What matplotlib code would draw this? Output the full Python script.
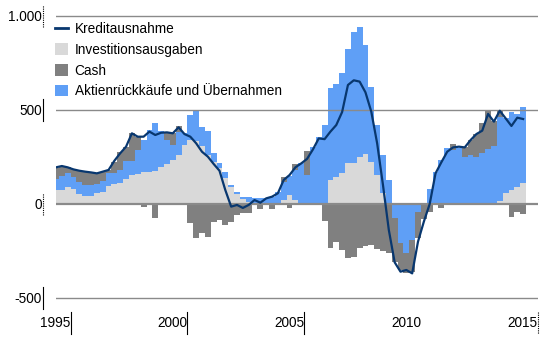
import numpy as np
import pandas as pd
import matplotlib
matplotlib.use("Agg")
import matplotlib.pyplot as plt
from matplotlib.patches import Patch
from matplotlib.lines import Line2D
from matplotlib.transforms import blended_transform_factory

plt.rcParams["font.family"] = ["Liberation Sans", "DejaVu Sans"]
plt.rcParams["font.size"] = 9.8

# quarterly figures, 1994Q2 - 2014Q2
quarters = pd.period_range("1994Q2", periods=81, freq="Q")

invest = [74, 74, 90, 78, 53, 43, 43, 60, 66, 96, 106, 110, 133, 156, 161, 172,
          172, 175, 195, 213, 234, 261, 314, 340, 337, 308, 261, 225, 190, 140, 90, 55,
          25, 10, 0, 0, 0, 0, 0, 20, 50, 20, 0, 0, 0, 0, 0, 128,
          145, 163, 220, 220, 252, 266, 225, 154, 57, 0, 0, 0, 0, 0, 0, 0,
          0, 0, 0, 0, 0, 0, 0, 0, 0, 0, 0, 0, 18, 57, 74, 92,
          113]
buybacks = [57, 75, 73, 64, 66, 58, 58, 45, 58, 71, 61, 71, 97, 74, 126, 168,
            222, 254, 195, 127, 80, 124, 62, 133, 163, 103, 129, 46, 28, 32, 11, 10,
            11, 26, 30, 30, 30, 39, 66, 99, 100, 161, 216, 154, 305, 358, 420, 487,
            495, 532, 603, 697, 688, 580, 395, 266, 203, 130, -75, -209, -262, -190,
            -40, 0, 80, 172, 234, 296, 285, 300, 252, 260, 252, 270, 295, 310, 447, 403,
            416, 388, 405]
cash = [59, 50, 32, 44, 62, 67, 67, 58, 48, 14, 58, 97, 75, 146, 71, -14,
        0, -73, 0, 36, 62, 30, 0, -103, -183, -156, -174, -94, -85, -112, -94, -59,
        -50, -46, 0, -28, 0, -28, 0, 26, -23, 32, 0, 130, 0, 0, -90, -236,
        -200, -245, -289, -280, -236, -225, -218, -240, -250, -260, -235, -140, -107, -170,
        -140, -80, -45, 0, -23, 0, 35, 0, 50, 80, 118, 160, 200, 130, 35, 0,
        -71, -41, -53]
credit = [195, 202, 195, 184, 177, 172, 168, 163, 172, 181, 230, 270, 305, 376, 358, 358,
          385, 367, 379, 381, 376, 408, 372, 358, 323, 278, 252, 213, 177, 74, -14, -5,
          -21, -5, 21, 7, 30, 39, 57, 128, 154, 195, 216, 240, 290, 349, 345, 385,
          420, 489, 633, 658, 651, 594, 491, 323, 101, -138, -310, -360, -351, -369,
          -200, -94, 0, 163, 222, 278, 301, 305, 301, 340, 372, 390, 479, 438, 496, 456,
          415, 459, 452]

years = [1995, 2000, 2005, 2010, 2015]
ytick_vals = [-500, 0, 500, 1000]
ytick_labels = ["-500", "0", "500", "1.000"]

labels = ["Kreditausnahme", "Investitionsausgaben", "Cash",
          "Aktienrückkäufe und Übernahmen"]

c_light = "#d9d9d9"
c_dark = "#808080"
c_blue = "#5f9ff6"
c_line = "#08376f"
c_grid = "#8a8a8a"

invest = np.array(invest, dtype=float)
buybacks = np.array(buybacks, dtype=float)
cash = np.array(cash, dtype=float)
credit = np.array(credit, dtype=float)
x = np.arange(len(quarters))

# stacking: positives pile up from investment, negatives hang below zero
blue_bottom = np.where(buybacks >= 0, invest, 0)
cash_bottom = np.where(cash >= 0, invest + np.clip(buybacks, 0, None),
                       np.clip(buybacks, None, 0))

fig = plt.figure(figsize=(5.45, 3.42), dpi=100)
ax = fig.add_axes([56 / 545, 30 / 342, 482 / 545, 307 / 342])

bar_kw = dict(width=1.0, align="edge", linewidth=0, antialiased=False, zorder=1)
ax.bar(x, invest, color=c_light, **bar_kw)
ax.bar(x, buybacks, bottom=blue_bottom, color=c_blue, **bar_kw)
ax.bar(x, cash, bottom=cash_bottom, color=c_dark, **bar_kw)

for v in [1000, 500, -500]:
    ax.axhline(v, color=c_grid, lw=1.0, zorder=3)
ax.axhline(0, color=c_grid, lw=1.6, zorder=3)

ax.plot(x + 0.5, credit, color=c_line, lw=1.6, zorder=5)

ax.set_xlim(0.5, 83.05)
ax.set_ylim(-574.5, 1058.5)
for s in ax.spines.values():
    s.set_visible(False)

# year labels sit left of their tick mark
year_pos = [(pd.Period(f"{y}Q1", freq="Q") - quarters[0]).n for y in years]
ax.set_xticks(year_pos, [str(y) for y in years])
for lab in ax.get_xticklabels():
    lab.set_ha("right")
ax.tick_params(axis="x", length=0, pad=3)
ax.set_yticks(ytick_vals, ytick_labels)
ax.tick_params(axis="y", length=0, pad=10)

xtr = blended_transform_factory(ax.transData, ax.transAxes)
for p, y in zip(year_pos, years):
    if y == 2010:
        continue
    ls = (0, (1, 1)) if y == 2015 else "-"
    ax.plot([p, p], [0, -0.072], transform=xtr, color="black", lw=0.8,
            ls=ls, clip_on=False)

ytr = blended_transform_factory(ax.transAxes, ax.transData)
for v in ytick_vals:
    ls = (0, (1, 1)) if v in (0, 1000) else "-"
    ax.plot([-0.027, -0.027], [v - 58, v + 58], transform=ytr, color="black",
            lw=0.8, ls=ls, clip_on=False)

handles = [Line2D([], [], color=c_line, lw=2),
           Patch(facecolor=c_light), Patch(facecolor=c_dark), Patch(facecolor=c_blue)]
ax.legend(handles, labels, loc="upper left", bbox_to_anchor=(55 / 545, 1 - 22 / 342),
          bbox_transform=fig.transFigure, frameon=False, borderpad=0, borderaxespad=0,
          handlelength=0.95, handleheight=0.9, handletextpad=0.5, labelspacing=0.5,
          fontsize=9.8)

fig.savefig("out.png", dpi=100)
